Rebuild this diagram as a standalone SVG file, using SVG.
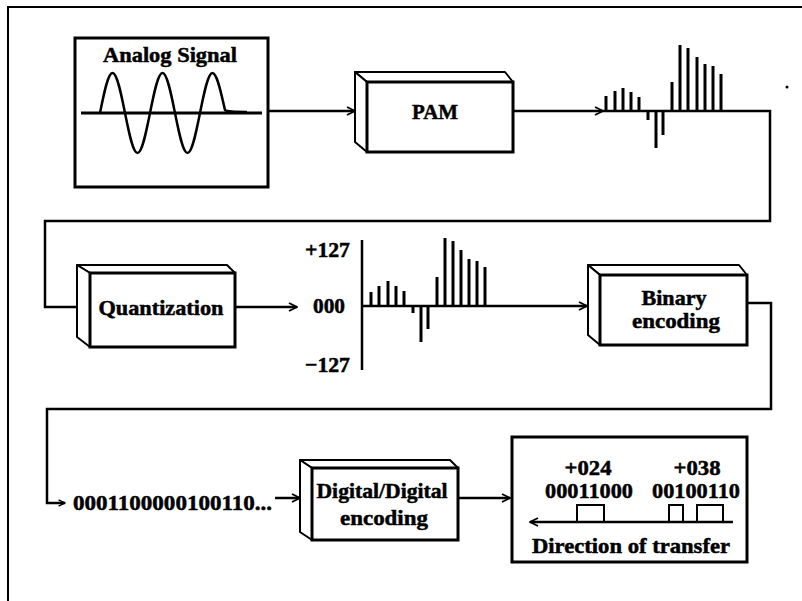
<svg xmlns="http://www.w3.org/2000/svg" width="802" height="601" viewBox="0 0 802 601">
<defs>
<marker id="ah" viewBox="0 0 10 10" refX="9" refY="5" markerWidth="10" markerHeight="10" markerUnits="userSpaceOnUse" orient="auto">
<path d="M1,1 L9,5 L1,9" fill="none" stroke="#000" stroke-width="1.8"/>
</marker>
<marker id="ahs" viewBox="0 0 10 10" refX="9" refY="5" markerWidth="8" markerHeight="8" markerUnits="userSpaceOnUse" orient="auto">
<path d="M1,1 L9,5 L1,9" fill="none" stroke="#000" stroke-width="1.8"/>
</marker>
</defs>
<style>
.lbl{text-anchor:middle;}
text{stroke:#000;stroke-width:0.5;}
.front{fill:#fff;stroke:#000;stroke-width:3;}
.side{fill:#fff;stroke:#000;stroke-width:2;stroke-linejoin:round;}
.conn{fill:none;stroke:#000;stroke-width:2.5;}
.pulse{stroke:#000;stroke-width:3;}
.frame{fill:none;stroke:#000;stroke-width:2;}
</style>
<rect width="802" height="601" fill="#fff"/>
<polyline class="frame" points="8,601 8,7 802,7"/>
<circle cx="787" cy="87" r="1.5" fill="#000"/>

<g font-family="'Liberation Serif', 'DejaVu Serif', 'Times New Roman', serif" font-weight="bold" font-size="22" fill="#000">

<g id="connectors">
<line class="conn" x1="268" y1="111" x2="355" y2="111" marker-end="url(#ah)"/>
<line class="conn" x1="513" y1="111" x2="603" y2="111" marker-end="url(#ah)"/>
<polyline class="conn" points="603,111 770,111 770,221 45,221 45,307 77,307"/>
<line class="conn" x1="235" y1="307" x2="297" y2="307" marker-end="url(#ah)"/>
<line class="conn" x1="362" y1="306" x2="587" y2="306" marker-end="url(#ah)"/>
<polyline class="conn" points="747,303 771,303 771,409 47,409 47,503 65,503" marker-end="url(#ahs)"/>
<line class="conn" x1="275" y1="498" x2="300" y2="498" marker-end="url(#ah)"/>
<line class="conn" x1="458" y1="498" x2="510" y2="498" marker-end="url(#ah)"/>
</g>

<g id="analog-signal">
<rect x="75" y="38" width="193" height="149" fill="#fff" stroke="#000" stroke-width="3"/>
<text class="lbl" x="170" y="62" textLength="134" lengthAdjust="spacingAndGlyphs">Analog Signal</text>
<line x1="81" y1="113" x2="262" y2="113" stroke="#000" stroke-width="3"/>
<path d="M100,113 C104.08,92.5 107.98,73 112.5,73 C117.02,73 120.92,92.5 125,113 C129.08,133.5 132.98,153 137.5,153 C142.02,153 145.92,133.5 150,113 C154.08,92.5 157.98,73 162.5,73 C167.02,73 170.92,92.5 175,113 C179.08,133.5 182.98,153 187.5,153 C192.02,153 195.92,133.5 200,113 C204.08,92.5 207.98,73 212.5,73 C217.02,73 220.92,92.5 225,110 C227,112 235,112 247,112" fill="none" stroke="#000" stroke-width="2.5"/>
</g>

<g id="pam">
<polygon class="side" points="355,72 505,72 513,82 367,82"/>
<polygon class="side" points="355,72 367,82 367,152 355,142"/>
<rect class="front" x="367" y="82" width="146" height="70"/>
<text class="lbl" x="435" y="119" textLength="46" lengthAdjust="spacingAndGlyphs">PAM</text>
</g>

<g id="pam-signal">
<line class="pulse" x1="606" y1="111" x2="606" y2="96"/>
<line class="pulse" x1="615" y1="111" x2="615" y2="91"/>
<line class="pulse" x1="623" y1="111" x2="623" y2="88"/>
<line class="pulse" x1="631" y1="111" x2="631" y2="92"/>
<line class="pulse" x1="639" y1="111" x2="639" y2="97"/>
<line class="pulse" x1="648" y1="111" x2="648" y2="120"/>
<line class="pulse" x1="656" y1="111" x2="656" y2="148"/>
<line class="pulse" x1="663" y1="111" x2="663" y2="135"/>
<line class="pulse" x1="672" y1="111" x2="672" y2="82"/>
<line class="pulse" x1="680" y1="111" x2="680" y2="45"/>
<line class="pulse" x1="688" y1="111" x2="688" y2="48"/>
<line class="pulse" x1="697" y1="111" x2="697" y2="57"/>
<line class="pulse" x1="705" y1="111" x2="705" y2="64"/>
<line class="pulse" x1="713" y1="111" x2="713" y2="66"/>
<line class="pulse" x1="721" y1="111" x2="721" y2="74"/>
</g>

<g id="quantization">
<polygon class="side" points="77,265 227,265 235,273 90,273"/>
<polygon class="side" points="77,265 90,273 90,347 77,337"/>
<rect class="front" x="90" y="273" width="145" height="74"/>
<text class="lbl" x="161" y="315" textLength="125" lengthAdjust="spacingAndGlyphs">Quantization</text>
</g>

<g id="quantized-signal">
<text x="350" y="257" text-anchor="end" textLength="45" lengthAdjust="spacingAndGlyphs">+127</text>
<text x="345" y="313" text-anchor="end" textLength="32" lengthAdjust="spacingAndGlyphs">000</text>
<text x="350" y="372" text-anchor="end" textLength="45" lengthAdjust="spacingAndGlyphs">−127</text>
<line x1="362" y1="240" x2="362" y2="370" stroke="#000" stroke-width="2.5"/>
<line class="pulse" x1="371" y1="306" x2="371" y2="292"/>
<line class="pulse" x1="379" y1="306" x2="379" y2="286"/>
<line class="pulse" x1="388" y1="306" x2="388" y2="281"/>
<line class="pulse" x1="396" y1="306" x2="396" y2="286"/>
<line class="pulse" x1="404" y1="306" x2="404" y2="291"/>
<line class="pulse" x1="413" y1="306" x2="413" y2="313"/>
<line class="pulse" x1="421" y1="306" x2="421" y2="342"/>
<line class="pulse" x1="428" y1="306" x2="428" y2="329"/>
<line class="pulse" x1="437" y1="306" x2="437" y2="277"/>
<line class="pulse" x1="445" y1="306" x2="445" y2="238"/>
<line class="pulse" x1="453" y1="306" x2="453" y2="241"/>
<line class="pulse" x1="461" y1="306" x2="461" y2="250"/>
<line class="pulse" x1="469" y1="306" x2="469" y2="259"/>
<line class="pulse" x1="477" y1="306" x2="477" y2="261"/>
<line class="pulse" x1="485" y1="306" x2="485" y2="267"/>
</g>

<g id="binary-encoding">
<polygon class="side" points="588,265 739,265 747,275 600,275"/>
<polygon class="side" points="588,265 600,275 600,345 588,335"/>
<rect class="front" x="600" y="275" width="147" height="70"/>
<text class="lbl" x="674" y="305" textLength="65" lengthAdjust="spacingAndGlyphs">Binary</text>
<text class="lbl" x="676" y="328" textLength="88" lengthAdjust="spacingAndGlyphs">encoding</text>
</g>

<g id="bitstream">
<text x="73" y="510" font-size="21" textLength="199" lengthAdjust="spacingAndGlyphs">0001100000100110...</text>
</g>

<g id="digital-encoding">
<polygon class="side" points="300,460 450,460 458,468 312,468"/>
<polygon class="side" points="300,460 312,468 312,540 300,532"/>
<rect class="front" x="312" y="468" width="146" height="72"/>
<text class="lbl" x="382" y="498" textLength="131" lengthAdjust="spacingAndGlyphs">Digital/Digital</text>
<text class="lbl" x="384" y="525" textLength="88" lengthAdjust="spacingAndGlyphs">encoding</text>
</g>

<g id="digital-signal">
<rect x="512" y="437" width="235" height="125" fill="#fff" stroke="#000" stroke-width="3"/>
<text class="lbl" x="588" y="475" textLength="47" lengthAdjust="spacingAndGlyphs">+024</text>
<text class="lbl" x="589" y="498" textLength="88" lengthAdjust="spacingAndGlyphs">00011000</text>
<text class="lbl" x="697" y="475" textLength="47" lengthAdjust="spacingAndGlyphs">+038</text>
<text class="lbl" x="696" y="498" textLength="88" lengthAdjust="spacingAndGlyphs">00100110</text>
<line x1="733" y1="522" x2="530" y2="522" stroke="#000" stroke-width="2.5" marker-end="url(#ah)"/>
<polyline points="577,522 577,505 604,505 604,522" fill="none" stroke="#000" stroke-width="2"/>
<polyline points="669,522 669,505 683,505 683,522" fill="none" stroke="#000" stroke-width="2"/>
<polyline points="697,522 697,505 723,505 723,522" fill="none" stroke="#000" stroke-width="2"/>
<text class="lbl" x="631" y="553" textLength="198" lengthAdjust="spacingAndGlyphs">Direction of transfer</text>
</g>
</g>
</svg>
